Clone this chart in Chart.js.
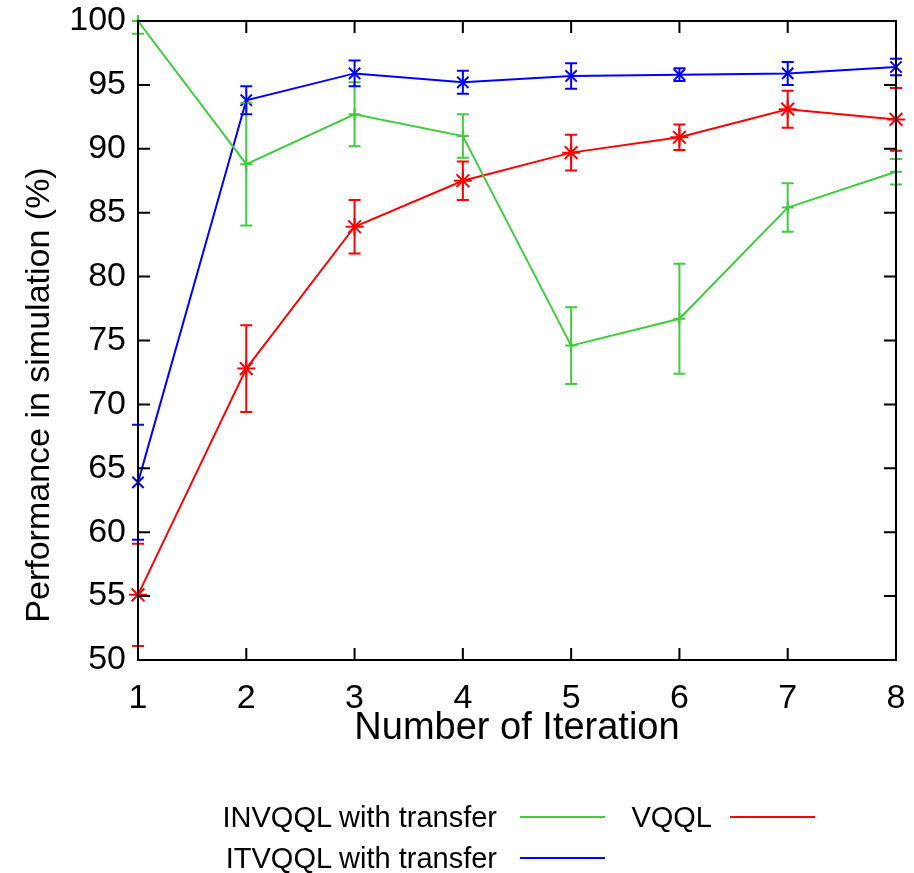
<!DOCTYPE html>
<html lang="en">
<head>
<meta charset="UTF-8">
<title>Performance in simulation</title>
<script src="https://cdn.jsdelivr.net/npm/chart.js"></script>
<style>
  body { margin: 0; background: #fff; }
  .wrap { position: relative; width: 914px; height: 873px; }
  canvas { position: absolute; left: 0; top: 0; }
  .key { position: absolute; font-family: "Liberation Sans", Arial, sans-serif; font-size: 29px; color: #000; line-height: 34px; white-space: nowrap; }
  .key-line { position: absolute; height: 2px; }
</style>
</head>
<body>
<div class="wrap">
  <canvas id="perfCanvas" width="914" height="873"></canvas>

  <!-- legend (gnuplot style: text then line sample) -->
  <div class="key" style="right:417px; top:800px;">INVQQL with transfer</div>
  <div class="key-line" style="left:520px; width:85px; top:816px; background:#3fcc3f;"></div>
  <div class="key" style="right:202px; top:800px;">VQQL</div>
  <div class="key-line" style="left:730px; width:85px; top:816px; background:#ff0000;"></div>
  <div class="key" style="right:417px; top:841px;">ITVQQL with transfer</div>
  <div class="key-line" style="left:520px; width:85px; top:857px; background:#0000ff;"></div>
</div>

<script>
// data
const iterations = ['1', '2', '3', '4', '5', '6', '7', '8'];
const yTicks = [50, 55, 60, 65, 70, 75, 80, 85, 90, 95, 100];

const invqql = [100, 88.8, 92.7, 91.0, 74.6, 76.7, 85.4, 88.2];
const invqqlErr = [1.0, 4.8, 2.5, 1.7, 3.0, 4.3, 1.9, 1.0];

const vqql = [55.1, 72.8, 83.9, 87.5, 89.7, 90.9, 93.1, 92.3];
const vqqlErr = [4.0, 3.4, 2.1, 1.5, 1.4, 1.0, 1.45, 2.45];

const itvqql = [63.9, 93.8, 95.9, 95.2, 95.7, 95.8, 95.9, 96.4];
const itvqqlErr = [4.5, 1.1, 1.0, 0.9, 1.0, 0.5, 0.9, 0.65];

const GREEN = '#3fcc3f', RED = '#ff0000', BLUE = '#0000ff';
const FONT = '"Liberation Sans", Arial, sans-serif';

// error bars with small caps
const errorBars = {
    id: 'errorBars',
    afterDatasetsDraw(chart) {
        const { ctx, chartArea, scales: { x, y } } = chart;
        ctx.save();
        ctx.beginPath();
        ctx.rect(0, chartArea.top - 1, chart.width, chartArea.bottom - chartArea.top + 2);
        ctx.clip();
        ctx.lineWidth = 2;
        chart.data.datasets.forEach(ds => {
            ctx.strokeStyle = ds.borderColor;
            ds.data.forEach((v, j) => {
                const e = ds.errors[j];
                const px = x.getPixelForValue(j);
                const top = y.getPixelForValue(v + e);
                const bot = y.getPixelForValue(v - e);
                ctx.beginPath();
                ctx.moveTo(px, top); ctx.lineTo(px, bot);
                ctx.moveTo(px - 6, top); ctx.lineTo(px + 6, top);
                ctx.moveTo(px - 6, bot); ctx.lineTo(px + 6, bot);
                ctx.stroke();
            });
        });
        ctx.restore();
    }
};

// frame with inward ticks on all four sides + the y title (sits a bit low in the original)
const frame = {
    id: 'frame',
    afterDraw(chart) {
        const { ctx, chartArea: a, scales: { x, y } } = chart;
        ctx.save();
        ctx.strokeStyle = '#000';
        ctx.lineWidth = 2;
        ctx.beginPath();
        y.ticks.forEach(t => {
            const py = y.getPixelForValue(t.value);
            ctx.moveTo(a.left, py); ctx.lineTo(a.left + 12, py);
            ctx.moveTo(a.right, py); ctx.lineTo(a.right - 12, py);
        });
        x.ticks.forEach((t, i) => {
            const px = x.getPixelForValue(i);
            ctx.moveTo(px, a.bottom); ctx.lineTo(px, a.bottom - 12);
            ctx.moveTo(px, a.top); ctx.lineTo(px, a.top + 12);
        });
        ctx.stroke();
        ctx.strokeRect(a.left, a.top, a.right - a.left, a.bottom - a.top);

        ctx.translate(40, 395);
        ctx.rotate(-Math.PI / 2);
        ctx.fillStyle = '#000';
        ctx.font = '34px ' + FONT;
        ctx.textAlign = 'center';
        ctx.textBaseline = 'middle';
        ctx.fillText('Performance in simulation (%)', 0, 0);
        ctx.restore();
    }
};

const ctx = document.getElementById('perfCanvas').getContext('2d');
const perfChart = new Chart(ctx, {
    type: 'line',
    data: {
        labels: iterations,
        datasets: [
            {
                label: 'INVQQL with transfer',
                data: invqql,
                errors: invqqlErr,
                borderColor: GREEN,
                backgroundColor: GREEN,
                borderWidth: 2,
                pointStyle: 'cross',
                pointRadius: 6,
                pointBorderWidth: 2,
                tension: 0
            },
            {
                label: 'VQQL',
                data: vqql,
                errors: vqqlErr,
                borderColor: RED,
                backgroundColor: RED,
                borderWidth: 2,
                pointStyle: 'star',
                pointRadius: 9,
                pointBorderWidth: 2,
                tension: 0
            },
            {
                label: 'ITVQQL with transfer',
                data: itvqql,
                errors: itvqqlErr,
                borderColor: BLUE,
                backgroundColor: BLUE,
                borderWidth: 2,
                pointStyle: 'crossRot',
                pointRadius: 8,
                pointBorderWidth: 2,
                tension: 0
            }
        ]
    },
    options: {
        responsive: false,
        animation: false,
        clip: false,
        layout: { padding: { top: 21, right: 18, left: 0, bottom: 0 } },
        plugins: {
            legend: { display: false },
            tooltip: { enabled: false }
        },
        scales: {
            x: {
                type: 'category',
                offset: false,
                grid: { display: false, drawTicks: false },
                border: { display: false },
                ticks: { color: '#000', padding: 18, font: { family: FONT, size: 34 }, maxRotation: 0 },
                title: {
                    display: true,
                    text: 'Number of Iteration',
                    color: '#000',
                    font: { family: FONT, size: 38 },
                    padding: { top: 0, bottom: 122 }
                },
                afterFit(scale) {
                    scale.height = 213;
                    scale.paddingLeft = 0;
                    scale.paddingRight = 0;
                }
            },
            y: {
                min: 50,
                max: 100,
                afterBuildTicks(scale) { scale.ticks = yTicks.map(v => ({ value: v })); },
                grid: { display: false, drawTicks: false },
                border: { display: false },
                ticks: { color: '#000', padding: 12, font: { family: FONT, size: 34 } },
                title: { display: false },
                afterFit(scale) {
                    scale.width = 138;
                    scale.paddingTop = 0;
                    scale.paddingBottom = 0;
                }
            }
        }
    },
    plugins: [errorBars, frame]
});
</script>
</body>
</html>
